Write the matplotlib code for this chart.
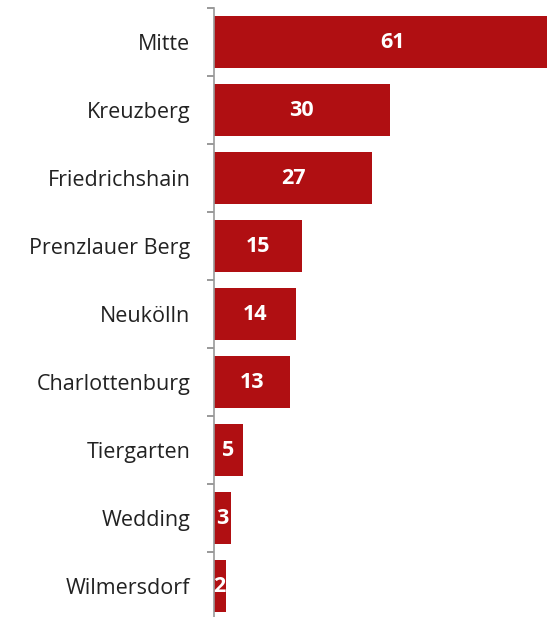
import numpy as np
import matplotlib.pyplot as plt

# Daten
bezirke = ["Mitte", "Kreuzberg", "Friedrichshain", "Prenzlauer Berg", "Neukölln",
           "Charlottenburg", "Tiergarten", "Wedding", "Wilmersdorf"]
werte = [61, 30, 27, 15, 14, 13, 5, 3, 2]

plt.rcParams['font.family'] = ['Open Sans', 'DejaVu Sans']

fig = plt.figure(figsize=(5.47, 6.17), dpi=100)
ax = fig.add_axes([0.391, -0.005, 0.609, 0.992])

y = np.arange(len(bezirke))
bars = ax.barh(y, werte, height=0.76, color="#B00F12")

# Werte mittig in die Balken
for b, v in zip(bars, werte):
    ax.text(v / 2, b.get_y() + b.get_height() / 2, str(v), color="white",
            fontsize=15.5, fontweight="bold", ha="center", va="center")

ax.set_ylim(len(bezirke) - 0.5, -0.5)
ax.set_xlim(0, 56.8)
ax.set_yticks(y)
ax.set_yticklabels(bezirke, fontsize=15.5, color="#222222")
ax.tick_params(axis="y", which="major", length=0, pad=17)
ax.set_yticks(np.arange(-0.5, len(bezirke), 1), minor=True)
ax.tick_params(axis="y", which="minor", length=5, color="#888888", width=1.2)
ax.set_xticks([])

for s in ["top", "right", "bottom"]:
    ax.spines[s].set_visible(False)
ax.spines["left"].set_color("#999999")
ax.spines["left"].set_linewidth(1.2)

fig.savefig("out.png", dpi=100)
